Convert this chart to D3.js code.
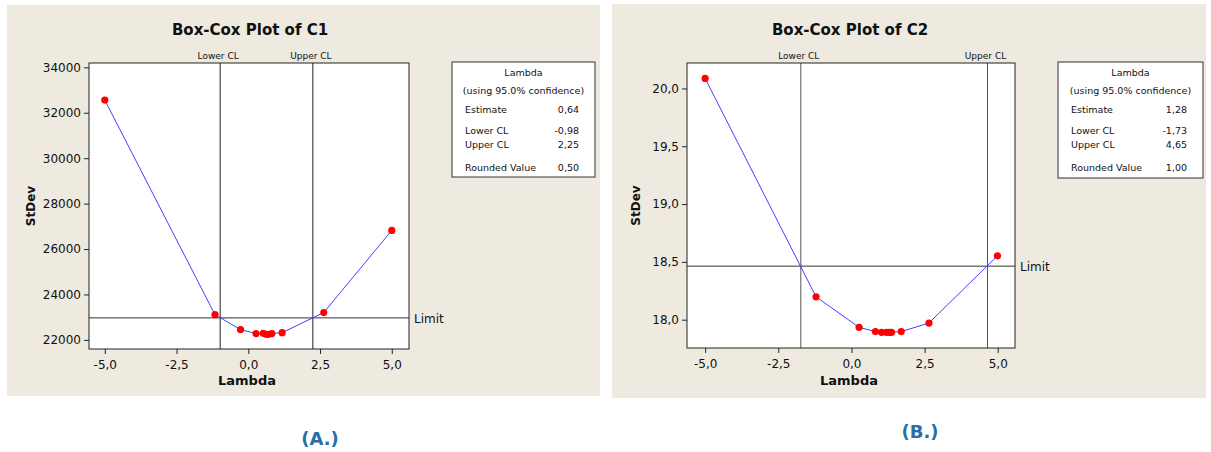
<!DOCTYPE html>
<html>
<head>
<meta charset="utf-8">
<script src="https://cdn.jsdelivr.net/npm/d3@7"></script>
<style>
  html, body { margin: 0; padding: 0; background: #ffffff; }
  svg { display: block; }
  text { font-family: "DejaVu Sans", Verdana, sans-serif; fill: #111; }
</style>
</head>
<body>
<svg id="chart" width="1211" height="452"></svg>
<script>
// Box-Cox StDev curves (lambda vs. standard deviation of transformed data)
const lambdaC1 = [-5.0, -1.16, -0.27, 0.27, 0.52, 0.63, 0.71, 0.82, 1.18, 2.63, 5.0];
const stdevC1  = [32560, 23110, 22455, 22280, 22290, 22250, 22250, 22280, 22320, 23205, 26820];
const lambdaC2 = [-5.0, -1.21, 0.26, 0.82, 1.03, 1.20, 1.29, 1.37, 1.70, 2.65, 4.99];
const stdevC2  = [20.087, 18.198, 17.934, 17.897, 17.891, 17.891, 17.891, 17.891, 17.897, 17.971, 18.552];

// Confidence limits and the StDev limit line
const limitsC1 = { lower: -0.98, upper: 2.25, stdevLimit: 22970 };
const limitsC2 = { lower: -1.73, upper: 4.65, stdevLimit: 18.463 };

// Tick values
const xTicks = [-5.0, -2.5, 0.0, 2.5, 5.0];
const yTicksC1 = [22000, 24000, 26000, 28000, 30000, 32000, 34000];
const yTicksC2 = [18.0, 18.5, 19.0, 19.5, 20.0];

// Lambda summary tables
const summaryLabels = ["Estimate", "Lower CL", "Upper CL", "Rounded Value"];
const summaryC1 = ["0,64", "-0,98", "2,25", "0,50"];
const summaryC2 = ["1,28", "-1,73", "4,65", "1,00"];

const titles = ["Box-Cox Plot of C1", "Box-Cox Plot of C2"];
const panelTags = ["(A.)", "(B.)"];

// comma decimal separator, plain hyphen for negatives
const locale = d3.formatLocale({ decimal: ",", thousands: "", grouping: [3], currency: ["", ""], minus: "-" });
const fmt1 = locale.format(".1f");
const fmt0 = locale.format("d");

const svg = d3.select("#chart");

function drawPanel(cfg) {
  const g = svg.append("g");

  // panel background
  g.append("rect")
    .attr("x", cfg.bg[0]).attr("y", cfg.bg[1])
    .attr("width", cfg.bg[2]).attr("height", cfg.bg[3])
    .attr("fill", "#eeeae0");

  const x = d3.scaleLinear().domain(cfg.xDomain).range(cfg.xRange);
  const y = d3.scaleLinear().domain(cfg.yDomain).range(cfg.yRange);

  const [x0, x1] = cfg.xRange;
  const [y0, y1] = cfg.yRange; // y0 bottom, y1 top

  // plot area
  g.append("rect")
    .attr("x", x0).attr("y", y1)
    .attr("width", x1 - x0).attr("height", y0 - y1)
    .attr("fill", "#ffffff");

  // title
  g.append("text")
    .attr("x", cfg.titleX).attr("y", 35)
    .attr("text-anchor", "middle")
    .attr("font-size", 15).attr("font-weight", "bold")
    .attr("font-family", "Liberation Sans, Arial, sans-serif")
    .text(cfg.title);

  // axes
  const xAxis = d3.axisBottom(x).tickValues(xTicks).tickFormat(fmt1).tickSize(5).tickPadding(3);
  const yAxis = d3.axisLeft(y).tickValues(cfg.yTicks).tickFormat(cfg.yFmt).tickSize(5).tickPadding(3);

  const gx = g.append("g").attr("transform", `translate(0,${y0})`).call(xAxis);
  const gy = g.append("g").attr("transform", `translate(${x0},0)`).call(yAxis);
  [gx, gy].forEach(a => {
    a.select(".domain").remove();
    a.selectAll(".tick line").attr("stroke", "#222");
    a.selectAll(".tick text")
      .attr("font-size", 12)
      .attr("font-family", "DejaVu Sans, sans-serif")
      .attr("fill", "#222");
  });
  gx.selectAll(".tick text").attr("dy", "1.0em");

  // confidence-limit lines and labels
  [["Lower CL", cfg.limits.lower], ["Upper CL", cfg.limits.upper]].forEach(([lab, v]) => {
    g.append("line")
      .attr("x1", x(v)).attr("x2", x(v))
      .attr("y1", y0).attr("y2", y1)
      .attr("stroke", cfg.clColor).attr("stroke-width", 1);
    g.append("text")
      .attr("x", x(v) - 2).attr("y", y1 - 4)
      .attr("text-anchor", "middle")
      .attr("font-size", 9)
      .attr("fill", "#222")
      .text(lab);
  });

  // StDev limit line
  g.append("line")
    .attr("x1", x0).attr("x2", x1)
    .attr("y1", y(cfg.limits.stdevLimit)).attr("y2", y(cfg.limits.stdevLimit))
    .attr("stroke", "#333").attr("stroke-width", 1);
  g.append("text")
    .attr("x", x1 + 5).attr("y", y(cfg.limits.stdevLimit) + 5)
    .attr("font-size", 12)
    .attr("fill", "#222")
    .text("Limit");

  // frame
  g.append("rect")
    .attr("x", x0).attr("y", y1)
    .attr("width", x1 - x0).attr("height", y0 - y1)
    .attr("fill", "none").attr("stroke", "#222").attr("stroke-width", 1);

  // curve + points
  const pts = cfg.lambda.map((l, i) => [l, cfg.stdev[i]]);
  g.append("path")
    .datum(pts)
    .attr("fill", "none")
    .attr("stroke", "#4040ff")
    .attr("stroke-width", 1)
    .attr("d", d3.line().x(d => x(d[0])).y(d => y(d[1])));
  g.selectAll("circle.pt")
    .data(pts)
    .join("circle")
    .attr("class", "pt")
    .attr("cx", d => x(d[0])).attr("cy", d => y(d[1]))
    .attr("r", 3.6)
    .attr("fill", "#ff0000");

  // axis titles
  g.append("text")
    .attr("x", (x0 + x1) / 2 - 2).attr("y", 385)
    .attr("text-anchor", "middle")
    .attr("font-size", 13).attr("font-weight", "bold")
    .text("Lambda");
  g.append("text")
    .attr("transform", `translate(${cfg.yTitleX},${(y0 + y1) / 2}) rotate(-90)`)
    .attr("text-anchor", "middle")
    .attr("font-size", 12).attr("font-weight", "bold")
    .text("StDev");

  // summary table
  const [bx, by, bw, bh] = cfg.box;
  g.append("rect")
    .attr("x", bx).attr("y", by).attr("width", bw).attr("height", bh)
    .attr("fill", "#ffffff").attr("stroke", "#333").attr("stroke-width", 1);
  const fs = 9.5;
  g.append("text").attr("x", bx + bw / 2).attr("y", by + 14)
    .attr("text-anchor", "middle").attr("font-size", fs).text("Lambda");
  g.append("text").attr("x", bx + bw / 2).attr("y", by + 32)
    .attr("text-anchor", "middle").attr("font-size", fs).text("(using 95.0% confidence)");
  const rowY = [51, 72, 86, 109];
  summaryLabels.forEach((lab, i) => {
    g.append("text").attr("x", bx + 13).attr("y", by + rowY[i])
      .attr("font-size", fs).text(lab);
    g.append("text").attr("x", bx + bw - 16).attr("y", by + rowY[i])
      .attr("text-anchor", "end").attr("font-size", fs).text(cfg.summary[i]);
  });

  // panel tag
  g.append("text")
    .attr("x", cfg.tag[0]).attr("y", cfg.tag[1])
    .attr("text-anchor", "middle")
    .attr("font-size", 18).attr("font-weight", "bold")
    .attr("font-family", "Liberation Sans, Arial, sans-serif")
    .style("fill", "#2a6ea6")
    .text(cfg.tagText);
}

drawPanel({
  bg: [7, 5, 593, 391],
  xDomain: [-5.55, 5.6], xRange: [89, 409],
  yDomain: [21600, 34190], yRange: [349, 63],
  yTicks: yTicksC1, yFmt: fmt0,
  lambda: lambdaC1, stdev: stdevC1, limits: limitsC1,
  clColor: "#222",
  title: titles[0], titleX: 250,
  yTitleX: 35,
  box: [452, 62, 143, 115],
  summary: summaryC1,
  tag: [320, 445], tagText: panelTags[0]
});

drawPanel({
  bg: [612, 4, 594, 394],
  xDomain: [-5.62, 5.59], xRange: [687, 1015],
  yDomain: [17.755, 20.22], yRange: [348, 63],
  yTicks: yTicksC2, yFmt: fmt1,
  lambda: lambdaC2, stdev: stdevC2, limits: limitsC2,
  clColor: "#555",
  title: titles[1], titleX: 850,
  yTitleX: 640,
  box: [1058, 62, 145, 116],
  summary: summaryC2,
  tag: [920, 438], tagText: panelTags[1]
});
</script>
</body>
</html>
